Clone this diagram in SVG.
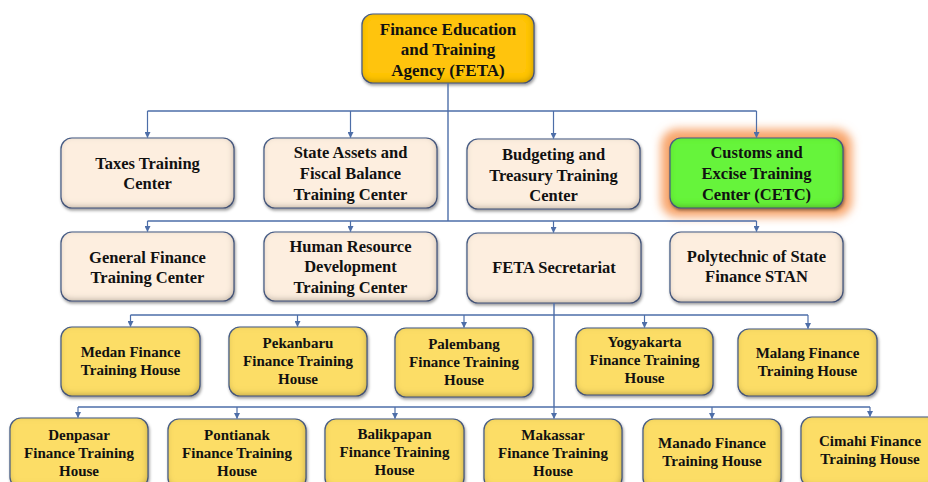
<svg xmlns="http://www.w3.org/2000/svg" width="928" height="482" viewBox="0 0 928 482">
  <style>
    .box { stroke: #4a628f; stroke-width: 1.2; filter: url(#bevel); }
    .peach { fill: #fdeedf; }
    .gold { fill: #fcdd66; }
    .amber { fill: #ffc40c; }
    .green { fill: #66f43a; }
    .lbl { font-family: "Liberation Serif", "Times New Roman", serif; font-weight: bold; fill: #111; text-anchor: middle; }
    .l1 { font-size: 17px; }
    .l2 { font-size: 16.5px; }
    .l3 { font-size: 15px; }
    .wire { fill: none; stroke: #4d6ea8; stroke-width: 1.4; }
    .drop { fill: none; stroke: #4d6ea8; stroke-width: 1.2; marker-end: url(#tip); }
  </style>
  <defs>
    <!-- inner shading for the raised box look, plus a soft drop shadow -->
    <filter id="bevel" x="-10%" y="-15%" width="125%" height="140%">
      <feComponentTransfer in="SourceAlpha" result="inv">
        <feFuncA type="table" tableValues="1 0"/>
      </feComponentTransfer>
      <feGaussianBlur in="inv" stdDeviation="3" result="invb"/>
      <feOffset in="invb" dx="-1" dy="-2.5" result="invo"/>
      <feFlood flood-color="#3a2a10" flood-opacity="0.55" result="shc"/>
      <feComposite in="shc" in2="invo" operator="in" result="sh1"/>
      <feComposite in="sh1" in2="SourceAlpha" operator="in" result="inner"/>
      <feGaussianBlur in="SourceAlpha" stdDeviation="1.5" result="ob"/>
      <feOffset in="ob" dx="1" dy="2" result="oo"/>
      <feFlood flood-color="#000" flood-opacity="0.4" result="oc"/>
      <feComposite in="oc" in2="oo" operator="in" result="outer"/>
      <feMerge>
        <feMergeNode in="outer"/>
        <feMergeNode in="SourceGraphic"/>
        <feMergeNode in="inner"/>
      </feMerge>
    </filter>
    <filter id="glow" x="-20%" y="-40%" width="140%" height="180%">
      <feGaussianBlur stdDeviation="5"/>
    </filter>
    <marker id="tip" viewBox="0 0 6 6" refX="5.5" refY="3" markerWidth="6" markerHeight="6" markerUnits="userSpaceOnUse" orient="auto">
      <path d="M0,0 L6,3 L0,6 z" fill="#4d6ea8"/>
    </marker>
  </defs>

  <!-- top agency -->
  <g id="feta">
    <rect class="box amber" x="362" y="14" width="172" height="69" rx="11"/>
    <text class="lbl l1" x="448" y="34.5">Finance Education</text>
    <text class="lbl l1" x="448" y="55">and Training</text>
    <text class="lbl l1" x="448" y="75.5">Agency (FETA)</text>
  </g>

  <!-- training centers, first row -->
  <g id="taxes">
    <rect class="box peach" x="61" y="138" width="173" height="70" rx="11"/>
    <text class="lbl l2" x="147.5" y="169">Taxes Training</text>
    <text class="lbl l2" x="147.5" y="189">Center</text>
  </g>
  <g id="state-assets">
    <rect class="box peach" x="264" y="138" width="173" height="70" rx="11"/>
    <text class="lbl l2" x="350.5" y="158">State Assets and</text>
    <text class="lbl l2" x="350.5" y="179">Fiscal Balance</text>
    <text class="lbl l2" x="350.5" y="200">Training Center</text>
  </g>
  <g id="budgeting">
    <rect class="box peach" x="467" y="139" width="173" height="70" rx="11"/>
    <text class="lbl l2" x="553.5" y="160">Budgeting and</text>
    <text class="lbl l2" x="553.5" y="181">Treasury Training</text>
    <text class="lbl l2" x="553.5" y="201">Center</text>
  </g>
  <g id="customs">
    <rect x="661" y="129" width="191" height="88" rx="16" fill="#f8a56c" filter="url(#glow)"/>
    <rect class="box green" x="670" y="138" width="173" height="70" rx="11"/>
    <text class="lbl l2" x="756.5" y="158">Customs and</text>
    <text class="lbl l2" x="756.5" y="179">Excise Training</text>
    <text class="lbl l2" x="756.5" y="200">Center (CETC)</text>
  </g>

  <!-- second row -->
  <g id="general-finance">
    <rect class="box peach" x="61" y="232" width="173" height="69" rx="11"/>
    <text class="lbl l2" x="147.5" y="263">General Finance</text>
    <text class="lbl l2" x="147.5" y="283">Training Center</text>
  </g>
  <g id="hrd">
    <rect class="box peach" x="264" y="232" width="173" height="69" rx="11"/>
    <text class="lbl l2" x="350.5" y="252">Human Resource</text>
    <text class="lbl l2" x="350.5" y="272">Development</text>
    <text class="lbl l2" x="350.5" y="293">Training Center</text>
  </g>
  <g id="secretariat">
    <rect class="box peach" x="467" y="233" width="174" height="70" rx="11"/>
    <text class="lbl l2" x="554" y="273">FETA Secretariat</text>
  </g>
  <g id="polytechnic">
    <rect class="box peach" x="670" y="232" width="173" height="70" rx="11"/>
    <text class="lbl l2" x="756.5" y="262">Polytechnic of  State</text>
    <text class="lbl l2" x="756.5" y="282">Finance STAN</text>
  </g>

  <!-- training houses, upper row -->
  <g id="medan">
    <rect class="box gold" x="61" y="327" width="139" height="69" rx="11"/>
    <text class="lbl l3" x="130.5" y="357">Medan Finance</text>
    <text class="lbl l3" x="130.5" y="375">Training House</text>
  </g>
  <g id="pekanbaru">
    <rect class="box gold" x="229" y="327" width="138" height="69" rx="11"/>
    <text class="lbl l3" x="298" y="348">Pekanbaru</text>
    <text class="lbl l3" x="298" y="366">Finance Training</text>
    <text class="lbl l3" x="298" y="384">House</text>
  </g>
  <g id="palembang">
    <rect class="box gold" x="395" y="328" width="138" height="69" rx="11"/>
    <text class="lbl l3" x="464" y="349">Palembang</text>
    <text class="lbl l3" x="464" y="367">Finance Training</text>
    <text class="lbl l3" x="464" y="385">House</text>
  </g>
  <g id="yogyakarta">
    <rect class="box gold" x="576" y="328" width="137" height="67" rx="11"/>
    <text class="lbl l3" x="644.5" y="347">Yogyakarta</text>
    <text class="lbl l3" x="644.5" y="365">Finance Training</text>
    <text class="lbl l3" x="644.5" y="383">House</text>
  </g>
  <g id="malang">
    <rect class="box gold" x="738" y="329" width="139" height="67" rx="11"/>
    <text class="lbl l3" x="807.5" y="358">Malang Finance</text>
    <text class="lbl l3" x="807.5" y="376">Training House</text>
  </g>

  <!-- training houses, lower row -->
  <g id="denpasar">
    <rect class="box gold" x="10" y="418" width="138" height="70" rx="11"/>
    <text class="lbl l3" x="79" y="440">Denpasar</text>
    <text class="lbl l3" x="79" y="458">Finance Training</text>
    <text class="lbl l3" x="79" y="476">House</text>
  </g>
  <g id="pontianak">
    <rect class="box gold" x="168" y="419" width="138" height="70" rx="11"/>
    <text class="lbl l3" x="237" y="440">Pontianak</text>
    <text class="lbl l3" x="237" y="458">Finance Training</text>
    <text class="lbl l3" x="237" y="476">House</text>
  </g>
  <g id="balikpapan">
    <rect class="box gold" x="325" y="419" width="139" height="70" rx="11"/>
    <text class="lbl l3" x="394.5" y="439">Balikpapan</text>
    <text class="lbl l3" x="394.5" y="457">Finance Training</text>
    <text class="lbl l3" x="394.5" y="475">House</text>
  </g>
  <g id="makassar">
    <rect class="box gold" x="484" y="419" width="138" height="70" rx="11"/>
    <text class="lbl l3" x="553" y="440">Makassar</text>
    <text class="lbl l3" x="553" y="458">Finance Training</text>
    <text class="lbl l3" x="553" y="476">House</text>
  </g>
  <g id="manado">
    <rect class="box gold" x="643" y="419" width="138" height="70" rx="11"/>
    <text class="lbl l3" x="712" y="448">Manado Finance</text>
    <text class="lbl l3" x="712" y="466">Training House</text>
  </g>
  <g id="cimahi">
    <rect class="box gold" x="801" y="417" width="138" height="70" rx="11"/>
    <text class="lbl l3" x="870" y="446">Cimahi Finance</text>
    <text class="lbl l3" x="870" y="464">Training House</text>
  </g>

  <!-- connectors, drawn last so they sit above the glow -->
  <g id="connectors">
    <path class="wire" d="M448,83 V221"/>
    <path class="wire" d="M147.5,111 H756.5"/>
    <path class="drop" d="M147.5,111 V137.5"/>
    <path class="drop" d="M350.5,111 V137.5"/>
    <path class="drop" d="M553.5,111 V138.5"/>
    <path class="drop" d="M756.5,111 V137.5"/>
    <path class="wire" d="M147.5,221 H756.5"/>
    <path class="drop" d="M147.5,221 V231.5"/>
    <path class="drop" d="M350.5,221 V231.5"/>
    <path class="drop" d="M553.5,221 V232.5"/>
    <path class="drop" d="M756.5,221 V231.5"/>
    <path class="wire" d="M554,303 V407"/>
    <path class="wire" d="M130.5,315 H808"/>
    <path class="drop" d="M130.5,315 V326.5"/>
    <path class="drop" d="M297.5,315 V326.5"/>
    <path class="drop" d="M464,315 V327.5"/>
    <path class="drop" d="M644.5,315 V327.5"/>
    <path class="drop" d="M808,315 V328.5"/>
    <path class="wire" d="M78,407 H870"/>
    <path class="drop" d="M78,407 V417.5"/>
    <path class="drop" d="M237,407 V418.5"/>
    <path class="drop" d="M395,407 V418.5"/>
    <path class="drop" d="M554,407 V418.5"/>
    <path class="drop" d="M712,407 V418.5"/>
    <path class="drop" d="M870,407 V416.5"/>
  </g>
</svg>
